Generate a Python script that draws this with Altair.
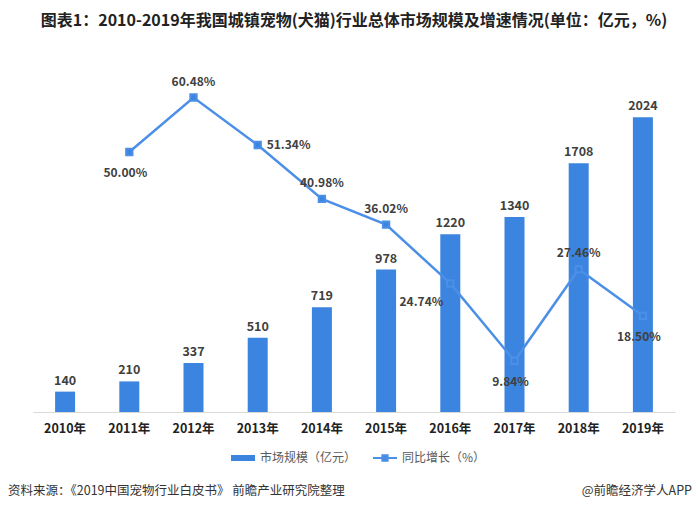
import altair as alt
import pandas as pd

years = ["2010年", "2011年", "2012年", "2013年", "2014年", "2015年", "2016年", "2017年", "2018年", "2019年"]
market = [140, 210, 337, 510, 719, 978, 1220, 1340, 1708, 2024]
growth = [None, 50.00, 60.48, 51.34, 40.98, 36.02, 24.74, 9.84, 27.46, 18.50]
label_place = [None, "below", "above", "right", "above", "above", "left", "below", "above", "below"]

series_names = ["市场规模（亿元）", "同比增长（%）"]
title_text = "图表1：2010-2019年我国城镇宠物(犬猫)行业总体市场规模及增速情况(单位：亿元，%)"
source_text = "资料来源：《2019中国宠物行业白皮书》 前瞻产业研究院整理"
brand_text = "@前瞻经济学人APP"

BAR = "#3b84df"
LINE = "#4b8fe6"
FONT = "Noto Sans CJK SC"

df = pd.DataFrame({
    "year": years,
    "market": market,
    "growth": growth,
    "place": label_place,
})
df["gl"] = [None if g is None else f"{g:.2f}%" for g in growth]

base = alt.Chart(df)
xenc = alt.X("year:N", sort=years, scale=alt.Scale(paddingInner=0.69, paddingOuter=0.345),
             axis=alt.Axis(title=None, ticks=False, domainColor="#d9d9d9", labelAngle=0,
                           labelFontWeight="bold", labelFontSize=12.5, labelColor="#222222",
                           labelPadding=10, labelFont=FONT))

ybar = alt.Y("market:Q", scale=alt.Scale(domain=[0, 2500]), axis=None)
yline = alt.Y("growth:Q", scale=alt.Scale(domain=[0, 70]), axis=None)

bars = base.mark_bar(size=20).transform_calculate(s1="'" + series_names[0] + "'").encode(
    x=xenc, y=ybar,
    fill=alt.Fill("s1:N", scale=alt.Scale(domain=[series_names[0]], range=[BAR]),
                  legend=alt.Legend(title=None, orient="none", legendX=197, legendY=397,
                                    symbolType="M-1,-0.25H1V0.25H-1Z", symbolSize=576,
                                    labelFontSize=12, labelColor="#595959", labelFont=FONT,
                                    padding=0)),
)
bar_labels = base.mark_text(dy=-11, fontWeight="bold", fontSize=12.5, color="#404040", font=FONT).encode(
    x=xenc, y=ybar, text="market:Q")

gdf = base.transform_filter("datum.growth != null")
line = gdf.mark_line(strokeWidth=2.5, point=alt.OverlayMarkDef(shape="square", size=40, filled=True, color=BAR)
                     ).transform_calculate(s2="'" + series_names[1] + "'").encode(
    x=xenc, y=yline,
    stroke=alt.Stroke("s2:N", scale=alt.Scale(domain=[series_names[1]], range=[LINE]),
                      legend=alt.Legend(title=None, orient="none", legendX=339, legendY=397,
                                        symbolType="M-1,0H1M-0.22,-0.22H0.22V0.22H-0.22Z",
                                        symbolSize=576, symbolStrokeWidth=2, symbolFillColor=LINE,
                                        labelFontSize=12, labelColor="#595959", labelFont=FONT,
                                        padding=0)),
)

def glabels(place, **kw):
    return gdf.transform_filter(f"datum.place == '{place}'").mark_text(
        fontWeight="bold", fontSize=12, color="#404040", font=FONT, **kw).encode(
        x=xenc, y=yline, text="gl:N")

lab_above = glabels("above", dy=-16)
lab_below = glabels("below", dy=21, dx=-4)
lab_right = glabels("right", align="left", dx=9, dy=0)
lab_left = glabels("left", align="right", dx=-7, dy=19)

foot = alt.Chart(pd.DataFrame({"t": [source_text]})).mark_text(
    align="left", fontSize=12.5, color="#333333", font=FONT).encode(
    x=alt.value(-25), y=alt.value(443), text="t:N")
brand = alt.Chart(pd.DataFrame({"t": [brand_text]})).mark_text(
    align="right", fontSize=12.5, color="#333333", font=FONT).encode(
    x=alt.value(659), y=alt.value(443), text="t:N")

chart = alt.layer(bars, line, bar_labels, lab_above, lab_below, lab_right, lab_left, foot, brand).resolve_scale(
    y="independent", fill="independent", stroke="independent"
).properties(
    width=642, height=364,
    title=alt.TitleParams(title_text, fontSize=16, fontWeight="bold", color="#222222", font=FONT,
                          anchor="middle", offset=14, dy=-5),
    autosize=alt.AutoSizeParams(type="none"),
    padding={"left": 25, "top": 40, "right": 17, "bottom": 89},
).configure_view(stroke=None)

chart.save("out.html", embed_options={"renderer": "svg", "actions": False})
